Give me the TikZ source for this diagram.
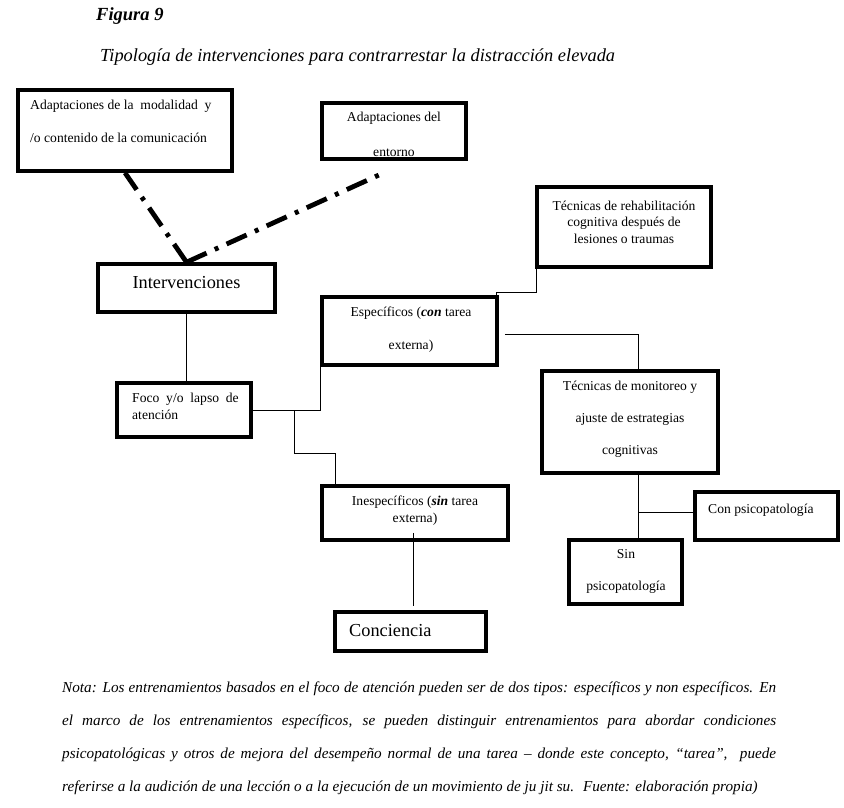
\documentclass[tikz,border=0pt]{standalone}
\usepackage{fontspec}
\setmainfont{Liberation Serif}
\usetikzlibrary{calc}
\begin{document}
\begin{tikzpicture}[x=1pt,y=-1pt,
  box/.style={draw, line width=3.6pt, rectangle, inner sep=0pt},
  txt/.style={inner sep=0pt, font=\fontsize{13.6}{15}\selectfont},
  big/.style={inner sep=0pt, font=\fontsize{18.3}{21}\selectfont},
  thinline/.style={line width=0.8pt},
  dd/.style={line width=4.8pt, dash pattern=on 22pt off 9pt on 4pt off 9pt}]
\useasboundingbox (0,0) rectangle (844,807);

% titles
\node[anchor=west, inner sep=0pt, font=\bfseries\itshape\fontsize{18.5}{21}\selectfont] (fig) at (96,16) {Figura 9};
\node[anchor=west, inner sep=0pt, font=\itshape\fontsize{18.4}{21}\selectfont] (tit) at (100,57) {Tipología de intervenciones para contrarrestar la distracción elevada};

% texts
\node[txt, anchor=west] (t1a) at (30,106) {Adaptaciones de la~~modalidad~~y};
\node[txt, anchor=west] (t1b) at (30,138) {/o contenido de la comunicación};
\node[txt] (t2a) at (394,118) {Adaptaciones del};
\begin{scope}
  \clip (322,103) rectangle (466,156);
  \node[txt] (t2b) at (394,153) {entorno};
\end{scope}
\node[big] (t3) at (186.5,283) {Intervenciones};
\node[txt, align=center, font=\fontsize{13.6}{16.5}\selectfont] (t4) at (624,222) {Técnicas de rehabilitación\\cognitiva después de\\lesiones o traumas};
\node[txt] (t5a) at (411,313) {Específicos (\textbf{\textit{con}} tarea};
\node[txt] (t5b) at (411,346) {externa)};
\node[txt, anchor=west] (t6a) at (132,399) {Foco~ y/o~ lapso~ de};
\node[txt, anchor=west] (t6b) at (132,415) {atención};
\node[txt] (t7a) at (630,387) {Técnicas de monitoreo y};
\node[txt] (t7b) at (630,419) {ajuste de estrategias};
\node[txt] (t7c) at (630,451) {cognitivas};
\node[txt, align=center, font=\fontsize{13.6}{17}\selectfont] (t8) at (415,510.5) {Inespecíficos (\textbf{\textit{sin}} tarea\\externa)};
\node[txt, anchor=west] (t9) at (708,510) {Con psicopatología};
\node[txt] (t10a) at (626,554) {Sin};
\node[txt] (t10b) at (626,587) {psicopatología};
\node[big, anchor=west] (t11) at (349,631) {Conciencia};

% boxes
\node[box, minimum width=214pt, minimum height=81pt] (mod) at (125,130.5) {};
\node[box, minimum width=144pt, minimum height=56pt] (env) at (394,131) {};
\node[box, minimum width=177pt, minimum height=48pt] (int) at (186.5,288) {};
\node[box, minimum width=174pt, minimum height=80pt] (reh) at (624,227) {};
\node[box, minimum width=175pt, minimum height=68pt] (esp) at (409.5,331) {};
\node[box, minimum width=134pt, minimum height=54pt] (foco) at (184,410) {};
\node[box, minimum width=176pt, minimum height=102pt] (mon) at (630,422) {};
\node[box, minimum width=186pt, minimum height=54pt] (ine) at (415,513) {};
\node[box, minimum width=143pt, minimum height=48pt] (cps) at (766.5,516) {};
\node[box, minimum width=113pt, minimum height=64pt] (sin) at (625.5,572) {};
\node[box, minimum width=151pt, minimum height=39pt] (con) at (410.5,631.5) {};

% dash-dot connectors
\coordinate (envend) at ($(env.south)+(-8,11)$);
\draw[dd] (int.north) -- (mod.south);
\draw[dd] (int.north) -- (envend);

% thin connectors
\draw[thinline] (int.south) -- (int.south |- foco.north);
\draw[thinline] (foco.east) -| (esp.south west);
\coordinate (br) at ($(foco.east)+(42,0)$);
\coordinate (inetop) at ($(ine.north west)+(15,0)$);
\draw[thinline] (br) -- ++(0,43) -| (inetop);
\coordinate (ineb) at ($(ine.south)+(-2,-9)$);
\coordinate (cont) at ($(con.north)+(2.5,-4)$);
\draw[thinline] (ineb) -- (cont);
\coordinate (espt) at ($(esp.north east)+(-2,0)$);
\coordinate (rehk) at ($(reh.south west)+(1,24)$);
\coordinate (rehb) at ($(reh.south west)+(1,0)$);
\draw[thinline] (espt) |- (rehk) -- (rehb);
\coordinate (espr) at ($(esp.east)+(6,3)$);
\coordinate (mont) at ($(mon.north)+(8,0)$);
\draw[thinline] (espr) -| (mont);
\coordinate (monb) at ($(mon.south)+(8,0)$);
\coordinate (monj) at ($(mon.south)+(8,38)$);
\draw[thinline] (monb) -- (monb |- sin.north);
\draw[thinline] (monj) -- (monj -| cps.west);

% note
\node[anchor=north west, inner sep=0pt, text width=714pt, align=justify,
  font=\itshape\fontsize{15.2}{33}\selectfont] (note) at (62,682)
 {Nota: Los entrenamientos basados en el foco de atención pueden ser de dos tipos: específicos y non específicos. En\linebreak
 el marco de los entrenamientos específicos, se pueden distinguir entrenamientos para abordar condiciones\linebreak
 psicopatológicas y otros de mejora del desempeño normal de una tarea – donde este concepto, “tarea”,~ puede\linebreak
 referirse a la audición de una lección o a la ejecución de un movimiento de ju jit su.~ Fuente: elaboración propia)};
\end{tikzpicture}
\end{document}
